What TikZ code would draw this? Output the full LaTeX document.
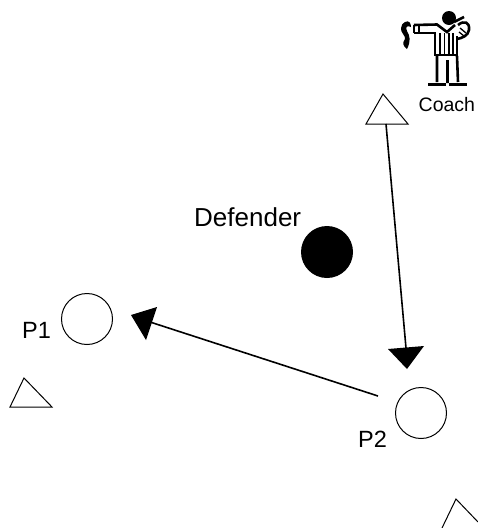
\documentclass[tikz,border=0pt]{standalone}
\usepackage{fontspec}
\setmainfont{Liberation Sans}
\tikzset{
  x=1pt,y=-1pt,
  thinline/.style={draw=black,line width=1pt},
  arrowline/.style={draw=black,line width=1.6pt},
  player/.style={circle,draw=black,line width=1pt,minimum size=51pt,inner sep=0pt},
  defender/.style={circle,fill=black,minimum size=52pt,inner sep=0pt},
  label/.style={inner sep=0pt,anchor=base west,font=\fontsize{23.5}{24}\selectfont},
  headfill/.style={fill=black,draw=none},
  coachline/.style={draw=black,line width=1.3pt},
  coachheavy/.style={draw=black,line width=2.6pt},
}
\begin{document}
\begin{tikzpicture}
\useasboundingbox (0,0) rectangle (478,528);
% players
\node[player] (p1) at (87,319) {};
\node[player] (p2) at (421,413) {};
\node[defender] (d) at (327,252) {};
% labels
\node[label,font=\fontsize{26}{26}\selectfont] (tdef) at (194,226) {Defender};
\node[label] (tp1) at (22,338) {P1};
\node[label] (tp2) at (358,447) {P2};
\node[label,font=\fontsize{19.5}{20}\selectfont] (tcoach) at (418.5,111) {Coach};
% cones
\draw[thinline] (383,94) -- (366,124) -- (408,124) -- cycle;
\draw[thinline] (24,378) -- (10,407) -- (52,407) -- cycle;
\draw[thinline] (442,528) -- (456,499) -- (478,522);
% arrows
\coordinate (a1s) at (386,124);
\coordinate (a1e) at (406,348);
\coordinate (a2s) at (378,396);
\coordinate (a2e) at (150,322);
\draw[arrowline] (a1s) -- (a1e);
\fill[headfill] (388,349) -- (424,346) -- (407,369) -- cycle;
\draw[arrowline] (a2s) -- (a2e);
\fill[headfill] (131,315) -- (157,307) -- (146,340) -- cycle;
% coach figure: head, whistle hand
\fill (449,18) circle (7);
\draw[coachheavy] (454,22) -- (464,17);
\draw[coachheavy] (458,25) .. controls (464,20) and (470,22) .. (469,30) .. controls (468,36) and (462,38) .. (457,39);
% arm
\draw[coachheavy] (414,24.5) -- (414,33);
\draw[coachheavy] (414,25) -- (437,24.5) -- (447,32) -- (455,25);
\draw[coachheavy] (414,33) -- (435,33) -- (435,55) -- (457,55) -- (457,36);
\draw[coachline] (419,25) -- (419,33);
\draw[coachline] (460,28) -- (466,33) (459,32) -- (464,36);
% stripes
\foreach \xa in {440,444.5,449,453}{\draw[coachline,line width=1.6pt] (\xa,33) -- (\xa,54);}
% legs
\draw[coachheavy] (437,56) -- (437,82) (457,56) -- (458,82) (447.5,60) -- (447.5,83);
\draw[coachheavy,line width=3pt] (428,84.5) -- (446,84.5) (449,84.5) -- (467,84.5);
% flag
\fill (405,22) .. controls (409,20) and (411,23) .. (411,27)
  .. controls (407,25) and (405,27) .. (407,31)
  .. controls (410,36) and (411,41) .. (407,49)
  .. controls (403,46) and (402,43) .. (405,39)
  .. controls (406,36) and (400,32) .. (401,28)
  .. controls (401,25) and (403,23) .. (405,22) -- cycle;
\end{tikzpicture}
\end{document}
